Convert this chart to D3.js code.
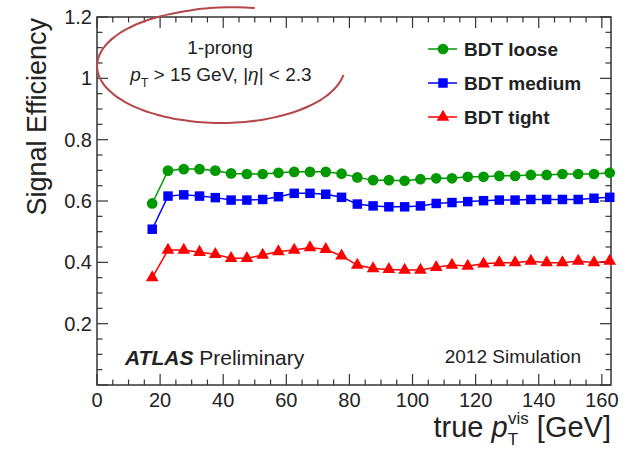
<!DOCTYPE html>
<html>
<head>
<meta charset="utf-8">
<script src="https://cdn.jsdelivr.net/npm/d3@7"></script>
<style>
  body { margin: 0; background: #fff; }
  text { font-family: 'Liberation Sans', Arial, sans-serif; fill: #222; }
</style>
</head>
<body>
<div id="chart"></div>
<script>
// Bin centres (5 GeV bins starting at 15 GeV)
const ptBins = [17.5, 22.5, 27.5, 32.5, 37.5, 42.5, 47.5, 52.5, 57.5, 62.5,
    67.5, 72.5, 77.5, 82.5, 87.5, 92.5, 97.5, 102.5, 107.5, 112.5,
    117.5, 122.5, 127.5, 132.5, 137.5, 142.5, 147.5, 152.5, 157.5, 162.5];
const effLoose = [0.592, 0.699, 0.704, 0.704, 0.699, 0.690, 0.688, 0.688, 0.692, 0.695,
    0.695, 0.695, 0.689, 0.677, 0.668, 0.668, 0.666, 0.671, 0.674, 0.674,
    0.679, 0.679, 0.682, 0.682, 0.685, 0.685, 0.688, 0.688, 0.688, 0.692];
const effMedium = [0.508, 0.616, 0.620, 0.616, 0.611, 0.603, 0.603, 0.605, 0.614, 0.625,
    0.625, 0.622, 0.612, 0.590, 0.584, 0.581, 0.581, 0.584, 0.592, 0.595,
    0.598, 0.601, 0.603, 0.603, 0.605, 0.605, 0.605, 0.605, 0.609, 0.612];
const effTight = [0.350, 0.440, 0.440, 0.433, 0.426, 0.413, 0.413, 0.424, 0.435, 0.440,
    0.448, 0.442, 0.421, 0.391, 0.380, 0.377, 0.375, 0.375, 0.384, 0.391,
    0.388, 0.395, 0.399, 0.399, 0.404, 0.399, 0.399, 0.404, 0.399, 0.404];
const seriesNames = ['BDT loose', 'BDT medium', 'BDT tight'];
const xTicks = [0, 20, 40, 60, 80, 100, 120, 140, 160];
const yTicks = [0.2, 0.4, 0.6, 0.8, 1, 1.2];

const chart = {
    totalWidth: 627,
    totalHeight: 452,
    margin: { top: 17, bottom: 67, left: 97, right: 16 }
};
chart.width = chart.totalWidth - chart.margin.left - chart.margin.right;
chart.height = chart.totalHeight - chart.margin.top - chart.margin.bottom;

const svg = d3.select('#chart')
    .append('svg')
    .attr('width', chart.totalWidth)
    .attr('height', chart.totalHeight);

const xScale = d3.scaleLinear().domain([0, 162.9]).range([0, chart.width]);
const yScale = d3.scaleLinear().domain([0, 1.2]).range([chart.height, 0]);

const plot = svg.append('g')
    .attr('transform', `translate(${chart.margin.left}, ${chart.margin.top})`);

const frameColor = '#333';

// Frame
plot.append('rect')
    .attr('width', chart.width)
    .attr('height', chart.height)
    .attr('fill', 'none')
    .attr('stroke', frameColor)
    .attr('stroke-width', 1.5);

// ROOT-style inward ticks on all four sides
const xMinor = d3.range(0, 163, 5);
const yMinor = d3.range(0, 1.2001, 0.05);
const major = 11, minor = 5.5;
const ticks = plot.append('g').attr('stroke', frameColor).attr('stroke-width', 1.2);
xMinor.forEach(v => {
    const len = v % 20 === 0 ? major : minor;
    const x = xScale(v);
    ticks.append('line').attr('x1', x).attr('x2', x).attr('y1', chart.height).attr('y2', chart.height - len);
    ticks.append('line').attr('x1', x).attr('x2', x).attr('y1', 0).attr('y2', len);
});
yMinor.forEach((v, i) => {
    const len = i % 4 === 0 ? major : minor;
    const y = yScale(v);
    ticks.append('line').attr('y1', y).attr('y2', y).attr('x1', 0).attr('x2', len);
    ticks.append('line').attr('y1', y).attr('y2', y).attr('x1', chart.width).attr('x2', chart.width - len);
});

// Tick labels
plot.append('g').selectAll('text')
    .data(xTicks)
    .enter().append('text')
    .attr('x', d => xScale(d))
    .attr('y', chart.height + 22)
    .attr('text-anchor', 'middle')
    .attr('font-size', 20)
    .text(d => d);

plot.append('g').selectAll('text')
    .data(yTicks)
    .enter().append('text')
    .attr('x', -5)
    .attr('y', d => yScale(d) + 7)
    .attr('text-anchor', 'end')
    .attr('font-size', 20)
    .text(d => d);

// Axis titles
svg.append('text')
    .attr('transform', `translate(46, ${chart.margin.top + 1}) rotate(-90)`)
    .attr('text-anchor', 'end')
    .attr('font-size', 27)
    .text('Signal Efficiency');

const xTitle = svg.append('text')
    .attr('x', chart.margin.left + chart.width)
    .attr('y', 437)
    .attr('text-anchor', 'end')
    .attr('font-size', 29);
xTitle.append('tspan').text('true ');
xTitle.append('tspan').attr('font-style', 'italic').text('p');
xTitle.append('tspan').attr('font-size', 17).attr('dy', 8).text('T');
xTitle.append('tspan').attr('font-size', 17).attr('dx', -10).attr('dy', -21).text('vis');
xTitle.append('tspan').attr('dy', 13).text(' [GeV]');

// Series
const series = [
    { name: seriesNames[0], values: effLoose, color: '#009900', shape: d3.symbolCircle, size: 90 },
    { name: seriesNames[1], values: effMedium, color: '#0000ff', shape: d3.symbolSquare, size: 90 },
    { name: seriesNames[2], values: effTight, color: '#ff0000', shape: d3.symbolTriangle, size: 70 }
];

const line = d3.line()
    .x(d => xScale(d.x))
    .y(d => yScale(d.y));

series.forEach(s => {
    const pts = ptBins.map((x, i) => ({ x: x, y: s.values[i] }));
    const g = plot.append('g');
    g.append('path')
        .attr('d', line(pts))
        .attr('fill', 'none')
        .attr('stroke', s.color)
        .attr('stroke-width', 1.5);
    g.selectAll('path.marker')
        .data(pts)
        .enter().append('path')
        .classed('marker', true)
        .attr('transform', d => `translate(${xScale(d.x)}, ${yScale(d.y)})`)
        .attr('d', d3.symbol().type(s.shape).size(s.size))
        .attr('fill', s.color);
});

// Legend
const legend = svg.append('g').attr('transform', 'translate(428, 49)');
series.forEach((s, i) => {
    const row = legend.append('g').attr('transform', `translate(0, ${i * 34})`);
    row.append('line')
        .attr('x1', 0).attr('x2', 29)
        .attr('stroke', s.color).attr('stroke-width', 1.5);
    row.append('path')
        .attr('transform', 'translate(15, 0)')
        .attr('d', d3.symbol().type(s.shape).size(s.size))
        .attr('fill', s.color);
    row.append('text')
        .attr('x', 36)
        .attr('y', 7)
        .attr('font-size', 19)
        .attr('font-weight', 'bold')
        .text(s.name);
});

// Hand-drawn ellipse annotation (open stroke, starts top, sweeps left and round)
const ell = { cx: 221, cy: 66, rx: 124, ry: 57 };
const ellPts = d3.range(-75, -352, -4).map(deg => {
    const a = deg * Math.PI / 180;
    const grow = deg > -110 ? 1 + (deg + 110) * 0.0015 : 1;
    return [ell.cx + ell.rx * grow * Math.cos(a), ell.cy + ell.ry * grow * Math.sin(a)];
});
svg.append('path')
    .attr('d', d3.line().curve(d3.curveBasis)(ellPts))
    .attr('fill', 'none')
    .attr('stroke', '#b5474a')
    .attr('stroke-width', 2);

svg.append('text')
    .attr('x', 220)
    .attr('y', 54)
    .attr('text-anchor', 'middle')
    .attr('font-size', 19)
    .text('1-prong');

const cut = svg.append('text')
    .attr('x', 221)
    .attr('y', 81)
    .attr('text-anchor', 'middle')
    .attr('font-size', 19);
cut.append('tspan').attr('font-style', 'italic').text('p');
cut.append('tspan').attr('font-size', 12).attr('dy', 6).text('T');
cut.append('tspan').attr('dy', -6).text(' > 15 GeV, |');
cut.append('tspan').attr('font-style', 'italic').text('η');
cut.append('tspan').text('| < 2.3');

// ATLAS label
const atlas = svg.append('text')
    .attr('x', 125)
    .attr('y', 365)
    .attr('font-size', 21);
atlas.append('tspan').attr('font-weight', 'bold').attr('font-style', 'italic').text('ATLAS');
atlas.append('tspan').text(' Preliminary');

svg.append('text')
    .attr('x', 581)
    .attr('y', 363)
    .attr('text-anchor', 'end')
    .attr('font-size', 19)
    .text('2012 Simulation');
</script>
</body>
</html>
